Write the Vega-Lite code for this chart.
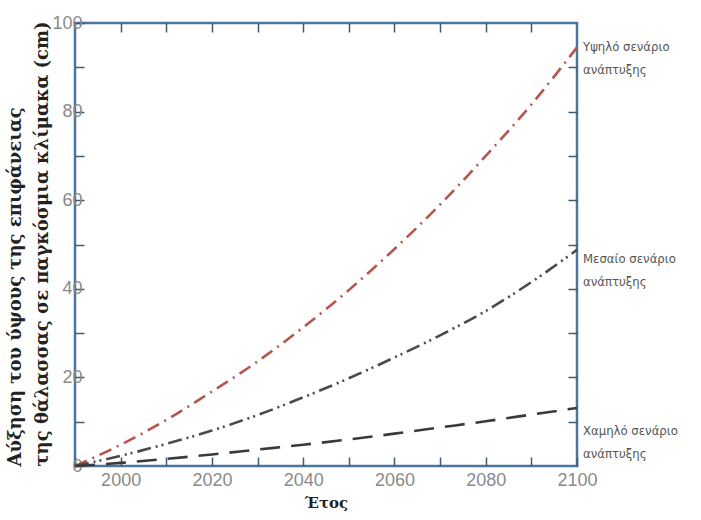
{
  "$schema": "https://vega.github.io/schema/vega-lite/v6.json",
  "autosize": "none",
  "width": 502,
  "height": 443,
  "padding": {"left": 75, "top": 23, "right": 124, "bottom": 54},
  "background": "white",
  "config": {
    "view": {"stroke": "#4a76a0", "strokeWidth": 2.5},
    "axis": {"grid": false, "domain": false, "tickColor": "#44586a", "tickWidth": 1.5, "tickSize": -9, "labelColor": "#8a8a8a", "labelFont": "Liberation Sans", "labelFontSize": 18, "labelFontWeight": "normal"}
  },
  "datasets": {
    "curves": [
      {"year": 1990, "value": 0, "scenario": "high"},
      {"year": 2000, "value": 4.8, "scenario": "high"},
      {"year": 2010, "value": 10.4, "scenario": "high"},
      {"year": 2020, "value": 16.8, "scenario": "high"},
      {"year": 2030, "value": 23.6, "scenario": "high"},
      {"year": 2040, "value": 31.3, "scenario": "high"},
      {"year": 2050, "value": 39.7, "scenario": "high"},
      {"year": 2060, "value": 49.0, "scenario": "high"},
      {"year": 2070, "value": 59.0, "scenario": "high"},
      {"year": 2080, "value": 70.0, "scenario": "high"},
      {"year": 2090, "value": 81.6, "scenario": "high"},
      {"year": 2100, "value": 94.5, "scenario": "high"},
      {"year": 1990, "value": 0, "scenario": "mid"},
      {"year": 2000, "value": 2.3, "scenario": "mid"},
      {"year": 2010, "value": 5.0, "scenario": "mid"},
      {"year": 2020, "value": 8.0, "scenario": "mid"},
      {"year": 2030, "value": 11.5, "scenario": "mid"},
      {"year": 2040, "value": 15.5, "scenario": "mid"},
      {"year": 2050, "value": 19.8, "scenario": "mid"},
      {"year": 2060, "value": 24.5, "scenario": "mid"},
      {"year": 2070, "value": 29.5, "scenario": "mid"},
      {"year": 2080, "value": 35.0, "scenario": "mid"},
      {"year": 2090, "value": 41.5, "scenario": "mid"},
      {"year": 2100, "value": 48.8, "scenario": "mid"},
      {"year": 1990, "value": 0, "scenario": "low"},
      {"year": 2000, "value": 0.7, "scenario": "low"},
      {"year": 2010, "value": 1.6, "scenario": "low"},
      {"year": 2020, "value": 2.6, "scenario": "low"},
      {"year": 2030, "value": 3.7, "scenario": "low"},
      {"year": 2040, "value": 4.8, "scenario": "low"},
      {"year": 2050, "value": 6.0, "scenario": "low"},
      {"year": 2060, "value": 7.3, "scenario": "low"},
      {"year": 2070, "value": 8.7, "scenario": "low"},
      {"year": 2080, "value": 10.1, "scenario": "low"},
      {"year": 2090, "value": 11.6, "scenario": "low"},
      {"year": 2100, "value": 13.1, "scenario": "low"}
    ],
    "labels": [
      {"year": 2100, "value": 94.6, "label": "Υψηλό σενάριο\nανάπτυξης"},
      {"year": 2100, "value": 46.7, "label": "Μεσαίο σενάριο\nανάπτυξης"},
      {"year": 2100, "value": 7.9, "label": "Χαμηλό σενάριο\nανάπτυξης"}
    ]
  },
  "resolve": {"axis": {"x": "independent", "y": "independent"}},
  "layer": [
    {
      "data": {"name": "curves"},
      "mark": {"type": "line", "interpolate": "monotone", "strokeCap": "butt"},
      "encoding": {
        "x": {"field": "year", "type": "quantitative",
              "scale": {"domain": [1990, 2100], "nice": false, "zero": false},
              "axis": {"values": [1990, 2000, 2010, 2020, 2030, 2040, 2050, 2060, 2070, 2080, 2090, 2100],
                       "labelExpr": "datum.value % 20 == 0 ? datum.label : ''",
                       "format": "d", "labelPadding": 14, "labelFlush": false,
                       "title": "Έτος", "titleFont": "DejaVu Serif", "titleFontSize": 15, "titleFontWeight": "bold", "titleColor": "#222", "titlePadding": 6}},
        "y": {"field": "value", "type": "quantitative",
              "scale": {"domain": [0, 100], "nice": false},
              "axis": {"values": [0, 10, 20, 30, 40, 50, 60, 70, 80, 90, 100],
                       "labelExpr": "datum.value % 20 == 0 ? datum.label : ''",
                       "labelPadding": 2, "labelFlush": false,
                       "title": ["Αύξηση του ύψους της επιφάνειας", "της θάλασσας σε παγκόσμια κλίμακα (cm)"],
                       "titleFont": "DejaVu Serif", "titleFontSize": 18, "titleFontWeight": "bold", "titleColor": "#222",
                       "titleAnchor": "start", "titlePadding": 0, "titleLineHeight": 27}},
        "color": {"field": "scenario", "type": "nominal",
                  "scale": {"domain": ["high", "mid", "low"], "range": ["#b5564e", "#4a4a4a", "#3a3a3a"]}, "legend": null},
        "strokeDash": {"field": "scenario", "type": "nominal",
                  "scale": {"domain": ["high", "mid", "low"], "range": [[13, 6, 2, 6], [14, 5, 2, 4, 2, 5], [20, 11]]}, "legend": null},
        "strokeWidth": {"field": "scenario", "type": "nominal",
                  "scale": {"domain": ["high", "mid", "low"], "range": [2.6, 2.6, 3.2]}, "legend": null}
      }
    },
    {
      "data": {"name": "curves"},
      "mark": {"type": "point", "opacity": 0},
      "encoding": {
        "x": {"field": "year", "type": "quantitative",
              "axis": {"orient": "top", "values": [2000, 2010, 2020, 2030, 2040, 2050, 2060, 2070, 2080, 2090], "labels": false, "title": null}},
        "y": {"field": "value", "type": "quantitative",
              "axis": {"orient": "right", "values": [10, 20, 30, 40, 50, 60, 70, 80, 90], "labels": false, "title": null}}
      }
    },
    {
      "data": {"name": "labels"},
      "mark": {"type": "text", "align": "left", "baseline": "middle", "dx": 6, "lineBreak": "\n", "lineHeight": 23, "font": "DejaVu Sans Condensed", "fontSize": 13, "fill": "#555555"},
      "encoding": {
        "x": {"field": "year", "type": "quantitative", "axis": null},
        "y": {"field": "value", "type": "quantitative", "axis": null},
        "text": {"field": "label"}
      }
    }
  ]
}
